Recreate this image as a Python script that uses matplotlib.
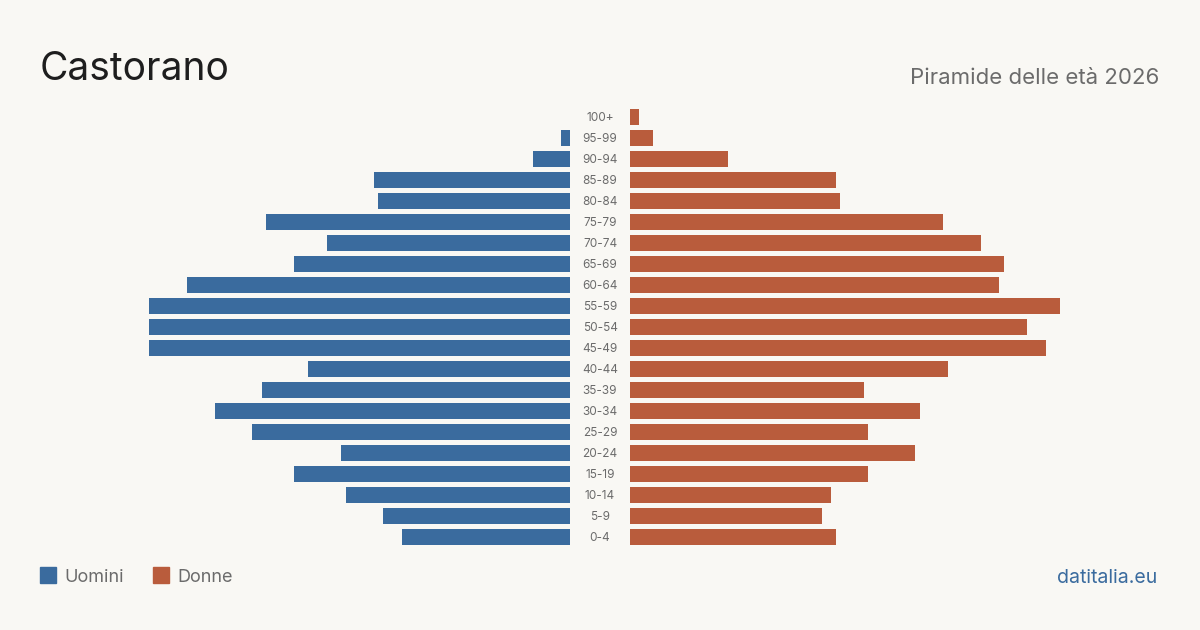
import matplotlib.pyplot as plt
from matplotlib.patches import Rectangle

plt.rcParams['font.family'] = ['Inter', 'DejaVu Sans']

eta = ["0-4", "5-9", "10-14", "15-19", "20-24", "25-29", "30-34", "35-39",
       "40-44", "45-49", "50-54", "55-59", "60-64", "65-69", "70-74",
       "75-79", "80-84", "85-89", "90-94", "95-99", "100+"]
uomini = [36, 40, 48, 59, 49, 68, 76, 66, 56, 90, 90, 90, 82, 59, 52,
          65, 41, 42, 8, 2, 0]
donne = [44, 41, 43, 51, 61, 51, 62, 50, 68, 89, 85, 92, 79, 80, 75,
         67, 45, 44, 21, 5, 2]

blu = "#3a6b9e"
rosso = "#b95c3c"
sfondo = "#f9f8f4"

W, H = 1200, 630
fig = plt.figure(figsize=(12, 6.3), dpi=100, facecolor=sfondo)

scala = 4.674  # pixel per persona
bottom = (H - 547.5) / H
height = 441 / H
larg = 100 * scala

ax_u = fig.add_axes([(570 - larg) / W, bottom, larg / W, height])
ax_d = fig.add_axes([630 / W, bottom, larg / W, height])

pos = list(range(len(eta)))
ax_u.barh(pos, uomini, height=0.8, color=blu)
ax_d.barh(pos, donne, height=0.8, color=rosso)
ax_u.set_xlim(100, 0)
ax_d.set_xlim(0, 100)

for ax in (ax_u, ax_d):
    ax.set_ylim(-0.5, len(eta) - 0.5)
    ax.axis("off")

# etichette età al centro
for i, e in enumerate(eta):
    fig.text(600 / W, 1 - (538 - 21 * i) / H, e, ha="center", va="center",
             fontsize=8.5, color="#6b6b6b")

fig.text(40 / W, 1 - 69 / H, "Castorano", fontsize=28, color="#1e1e1e",
         va="center", ha="left")
fig.text(1159 / W, 1 - 78 / H, "Piramide delle età 2026", fontsize=16,
         color="#6b6b6b", va="center", ha="right")

# legenda
fig.patches.append(Rectangle((40 / W, 1 - 583 / H), 16 / W, 16 / H,
                             transform=fig.transFigure, color=blu))
fig.text(64 / W, 1 - 578 / H, "Uomini", fontsize=13, color="#6b6b6b",
         va="center")
fig.patches.append(Rectangle((153 / W, 1 - 583 / H), 16 / W, 16 / H,
                             transform=fig.transFigure, color=rosso))
fig.text(177 / W, 1 - 578 / H, "Donne", fontsize=13, color="#6b6b6b",
         va="center")

fig.text(1157 / W, 1 - 578 / H, "datitalia.eu", fontsize=14, color=blu,
         va="center", ha="right")

fig.savefig("out.png", dpi=100, facecolor=sfondo)
